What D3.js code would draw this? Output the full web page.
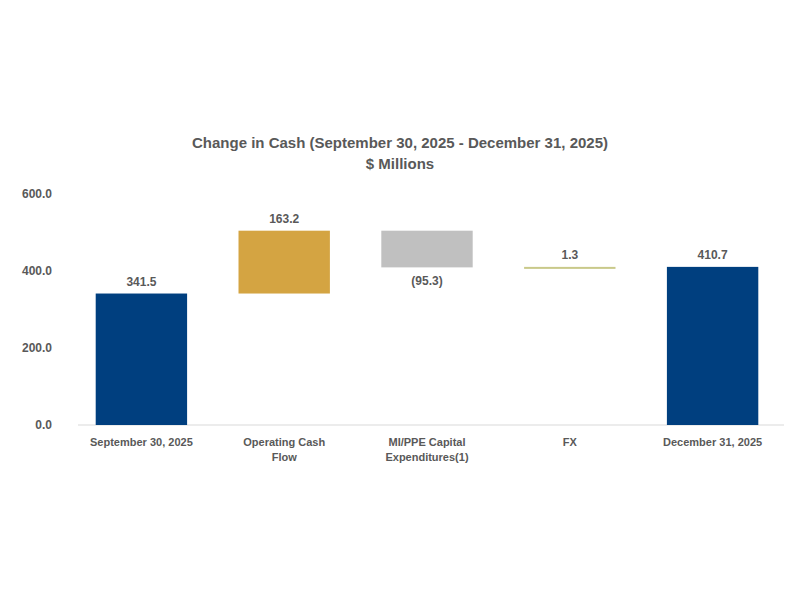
<!DOCTYPE html>
<html><head><meta charset="utf-8">
<script src="https://cdn.jsdelivr.net/npm/d3@7"></script>
<style>body{margin:0;background:#fff;font-family:"Liberation Sans",Arial,sans-serif}</style>
</head><body><svg id="chart" width="800" height="600"></svg>
<script>
// waterfall data
const categories = [["September 30, 2025"], ["Operating Cash", "Flow"], ["MI/PPE Capital", "Expenditures(1)"], ["FX"], ["December 31, 2025"]];
const values = [341.5, 163.2, -95.3, 1.3, 410.7];
const kinds = ["total", "delta", "delta", "delta", "total"];
const labels = ["341.5", "163.2", "(95.3)", "1.3", "410.7"];
const yTicks = [0, 200, 400, 600];

const colors = {total: "#003f7f", up: "#d4a442", down: "#c0c0c0", fx: "#c9c98a"};

let svg = d3.select("#chart");
let margin = {left: 70, right: 20, top: 194, bottom: 175};

let x = d3.scaleBand().domain(d3.range(values.length)).range([70, 784]).paddingInner(0.36).paddingOuter(0.18);
let y = d3.scaleLinear().domain([0, 600]).range([425, 194]);

// compute bar extents
let run = 0, bars = [];
for(let i = 0; i < values.length; i++){
	let b = {i: i, label: labels[i]};
	if(kinds[i] == "total"){ b.y0 = 0; b.y1 = values[i]; run = values[i]; b.color = colors.total; }
	else { b.y0 = run; b.y1 = run + values[i]; run = b.y1; b.color = values[i] < 0 ? colors.down : colors.up; }
	if(i == 3) b.color = colors.fx;
	b.neg = values[i] < 0;
	bars.push(b);
}

svg.append("text").attr("x", 400).attr("y", 148).attr("text-anchor", "middle")
	.style("font-size", "15px").style("font-weight", "bold").style("fill", "#595959")
	.text("Change in Cash (September 30, 2025 - December 31, 2025)");
svg.append("text").attr("x", 400).attr("y", 169).attr("text-anchor", "middle")
	.style("font-size", "15px").style("font-weight", "bold").style("fill", "#595959")
	.text("$ Millions");

// y axis labels
svg.append("g").selectAll("text").data(yTicks).enter().append("text")
	.attr("x", 52).attr("y", d => y(d) + 4).attr("text-anchor", "end")
	.style("font-size", "12px").style("font-weight", "bold").style("fill", "#595959")
	.text(d => d3.format(".1f")(d));

svg.append("line").attr("x1", 78).attr("x2", 784).attr("y1", y(0)).attr("y2", y(0))
	.style("stroke", "#d9d9d9").style("stroke-width", 1);

svg.append("g").selectAll("rect").data(bars).enter().append("rect")
	.attr("x", d => x(d.i)).attr("width", x.bandwidth())
	.attr("y", d => y(Math.max(d.y0, d.y1)))
	.attr("height", d => Math.max(2, Math.abs(y(d.y0) - y(d.y1))))
	.style("fill", d => d.color);

svg.append("g").selectAll("text").data(bars).enter().append("text")
	.attr("x", d => x(d.i) + x.bandwidth()/2)
	.attr("y", d => d.neg ? y(Math.min(d.y0, d.y1)) + 18 : y(Math.max(d.y0, d.y1)) - 8)
	.attr("text-anchor", "middle")
	.style("font-size", "12px").style("font-weight", "bold").style("fill", "#595959")
	.text(d => d.label);

let cat = svg.append("g").selectAll("text").data(categories).enter().append("text")
	.attr("x", (d, i) => x(i) + x.bandwidth()/2).attr("y", 446)
	.attr("text-anchor", "middle")
	.style("font-size", "11px").style("font-weight", "bold").style("fill", "#595959");
cat.selectAll("tspan").data(d => d).enter().append("tspan")
	.attr("x", function(){ return this.parentNode.getAttribute("x"); })
	.attr("dy", (d, j) => j ? 15 : 0).text(d => d);
</script></body></html>
